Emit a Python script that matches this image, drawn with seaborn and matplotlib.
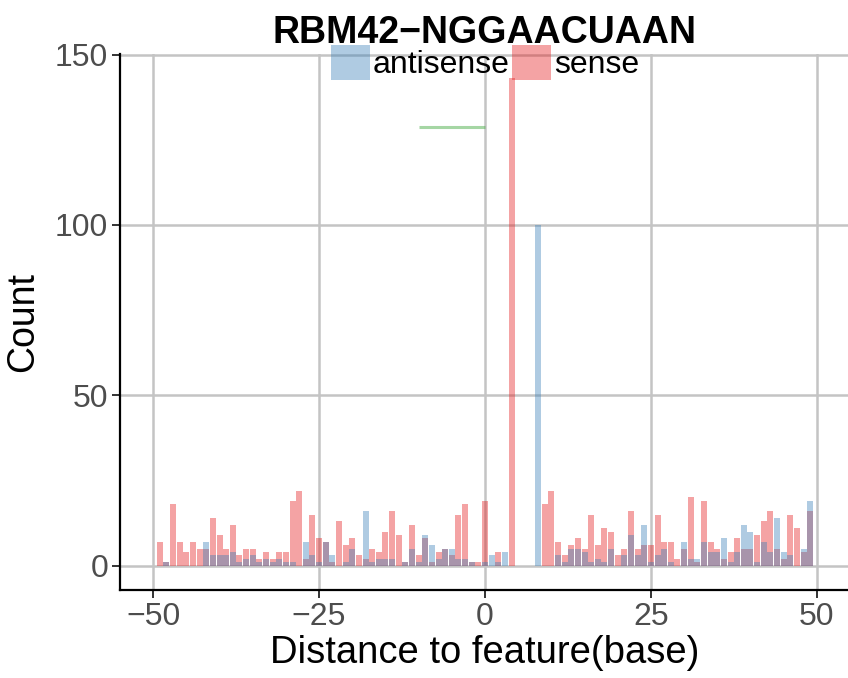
import numpy as np
import pandas as pd
import matplotlib
matplotlib.use("Agg")
import matplotlib.pyplot as plt
from matplotlib.patches import Patch
import seaborn as sns

# ---- data ----
positions = list(range(-49, 50))
antisense = [0, 1, 0, 0, 0, 0, 0, 7, 3, 3, 3, 4, 1, 2, 3, 1, 2, 1, 2, 1,
             1, 0, 7, 3, 1, 7, 3, 0, 1, 5, 0, 16, 1, 2, 2, 2, 0, 1, 5, 1,
             9, 6, 2, 5, 5, 2, 2, 1, 0, 1, 3, 1, 4, 0, 0, 0, 0, 100, 0, 0,
             3, 1, 5, 5, 4, 1, 2, 1, 5, 0, 3, 9, 3, 12, 1, 3, 5, 1, 0, 7,
             2, 2, 7, 4, 4, 8, 1, 4, 12, 10, 1, 7, 4, 14, 4, 3, 0, 5, 19]
sense = [7, 1, 18, 7, 4, 7, 5, 5, 14, 9, 5, 12, 3, 5, 5, 2, 4, 2, 4, 4,
         19, 22, 2, 15, 8, 7, 1, 13, 6, 8, 3, 2, 5, 4, 10, 16, 9, 1, 12, 3,
         8, 1, 4, 5, 3, 15, 18, 1, 1, 19, 0, 4, 0, 143, 0, 0, 0, 0, 18, 22,
         7, 3, 6, 8, 5, 15, 6, 11, 10, 3, 5, 16, 5, 6, 6, 15, 7, 7, 2, 5,
         20, 1, 19, 7, 5, 2, 4, 8, 5, 5, 9, 13, 16, 5, 2, 15, 11, 4, 16]
strands = ["antisense", "sense"]
colors = ["#377EB8", "#E41A1C"]
motif_start, motif_end, motif_y = -10, 0, 128.8
title = "RBM42\u2212NGGAACUAAN"
xticks = [-50, -25, 0, 25, 50]
yticks = [0, 50, 100, 150]

df = pd.DataFrame({
    "pos": positions * 2,
    "count": antisense + sense,
    "strand": ["antisense"] * len(positions) + ["sense"] * len(positions),
})

sns.set_theme(style="white")
plt.rcParams["font.family"] = ["Liberation Sans", "DejaVu Sans"]
plt.rcParams["text.color"] = "black"

fig = plt.figure(figsize=(8.48, 6.78), dpi=100)
ax = fig.add_axes([120 / 848, 88 / 678, 730 / 848, 536 / 678])

palette = dict(zip(strands, colors))
sns.histplot(data=df, x="pos", weights="count", hue="strand", hue_order=strands,
             palette=palette, discrete=True, shrink=0.9, alpha=0.4, linewidth=0,
             multiple="layer", legend=False, ax=ax, zorder=2)

ax.hlines(motif_y, motif_start, motif_end, color="#4DAF4A", alpha=0.5, lw=2.2, zorder=3)

ax.set_xlim(-55, 55)
ax.set_ylim(-7.15, 150.15)
ax.set_xticks(xticks)
ax.set_xticklabels([str(t).replace("-", "\u2212") for t in xticks])
ax.set_yticks(yticks)
ax.grid(True, color="#c4c4c4", lw=1.8, zorder=0)
ax.set_axisbelow(True)
for s in ["top", "right"]:
    ax.spines[s].set_visible(False)
for s in ["left", "bottom"]:
    ax.spines[s].set_color("black")
    ax.spines[s].set_linewidth(1.6)
ax.tick_params(axis="both", which="major", length=5.5, width=1.4, color="#333333",
               labelsize=23, labelcolor="#4d4d4d", pad=3, bottom=True, left=True)

ax.set_xlabel("Distance to feature(base)", fontsize=27.5, labelpad=2, color="black")
ax.set_ylabel("Count", fontsize=27, labelpad=10, color="black")
ax.set_title(title, fontsize=27, fontweight="bold", pad=8, color="black")

handles = [Patch(facecolor=c, alpha=0.4, edgecolor="none") for c in colors]
leg = fig.legend(handles, strands, loc="upper center", bbox_to_anchor=(485 / 848, 1 - 45 / 678),
                 ncol=2, frameon=False, fontsize=23, handlelength=1.22, handleheight=1.3,
                 handletextpad=0.08, columnspacing=0.08, borderpad=0, borderaxespad=0)
for t in leg.get_texts():
    t.set_color("black")

fig.savefig("out.png", dpi=100)
